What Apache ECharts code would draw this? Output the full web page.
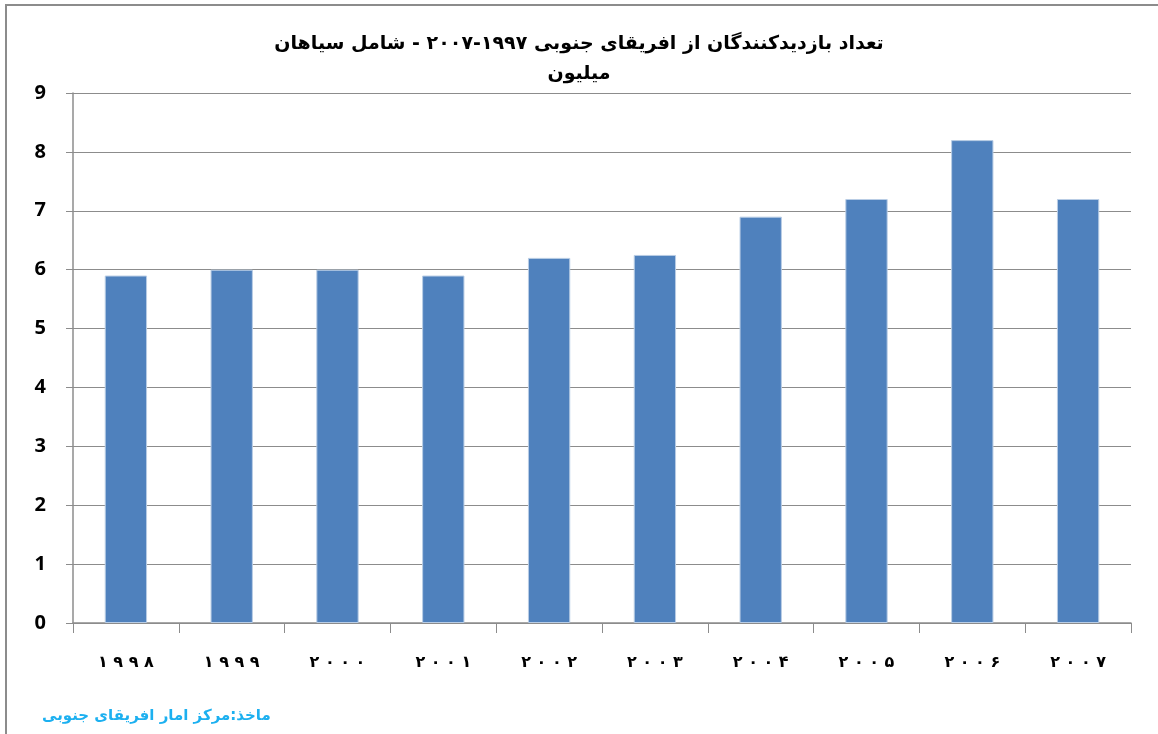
<!DOCTYPE html>
<html>
<head>
<meta charset="utf-8">
<script src="https://cdn.jsdelivr.net/npm/echarts@6/dist/echarts.min.js"></script>
<style>
  html, body { margin: 0; padding: 0; background: #fff; }
  #chart { width: 1158px; height: 734px; }
</style>
</head>
<body>
<div id="chart"></div>
<script>
// داده ها
var years = ['۱ ۹ ۹ ۸', '۱ ۹ ۹ ۹', '۲ ۰ ۰ ۰', '۲ ۰ ۰ ۱', '۲ ۰ ۰ ۲', '۲ ۰ ۰ ۳', '۲ ۰ ۰ ۴', '۲ ۰ ۰ ۵', '۲ ۰ ۰ ۶', '۲ ۰ ۰ ۷'];
var visitors = [5.9, 6.0, 6.0, 5.9, 6.2, 6.25, 6.9, 7.2, 8.2, 7.2];
var titleText = 'تعداد بازدیدکنندگان از افریقای جنوبی ۱۹۹۷-۲۰۰۷ - شامل سیاهان\nمیلیون';
var sourceText = 'ماخذ:مرکز امار افریقای جنوبی';

var chart = echarts.init(document.getElementById('chart'));
chart.setOption({
  animation: false,
  title: {
    text: titleText,
    left: 'center',
    top: 24,
    textStyle: {
      fontFamily: 'DejaVu Sans',
      fontSize: 19,
      fontWeight: 'bold',
      color: '#000',
      lineHeight: 30
    }
  },
  grid: {
    left: 73,
    right: 27,
    top: 93,
    bottom: 111
  },
  xAxis: {
    type: 'category',
    data: years,
    axisLine: { lineStyle: { color: '#8c8c8c', width: 1.5 } },
    axisTick: { show: true, length: 10, lineStyle: { color: '#8c8c8c' } },
    axisLabel: {
      margin: 32,
      fontFamily: 'DejaVu Sans',
      fontSize: 16,
      fontWeight: 'bold',
      color: '#000'
    }
  },
  yAxis: {
    type: 'value',
    min: 0,
    max: 9,
    interval: 1,
    axisLine: { show: true, lineStyle: { color: '#8c8c8c', width: 1.5 } },
    axisTick: { show: true, length: 7, lineStyle: { color: '#8c8c8c' } },
    axisLabel: {
      margin: 27,
      fontFamily: 'Open Sans',
      fontSize: 20,
      fontWeight: 'bold',
      color: '#000'
    },
    splitLine: { lineStyle: { color: '#8c8c8c', width: 1.2 } }
  },
  series: [{
    type: 'bar',
    data: visitors,
    barWidth: '40%',
    itemStyle: {
      color: '#4f81bd',
      borderColor: '#b9cde5',
      borderWidth: 1
    }
  }],
  graphic: [
    {
      type: 'rect',
      shape: { x: 6, y: 5, width: 1200, height: 800 },
      style: { fill: 'none', stroke: '#8c8c8c', lineWidth: 2 },
      silent: true
    },
    {
      type: 'text',
      left: 42,
      top: 709,
      style: {
        text: sourceText,
        fontFamily: 'DejaVu Sans',
        fontSize: 15,
        fontWeight: 'bold',
        fill: '#1cb0f0'
      }
    }
  ]
});
</script>
</body>
</html>
